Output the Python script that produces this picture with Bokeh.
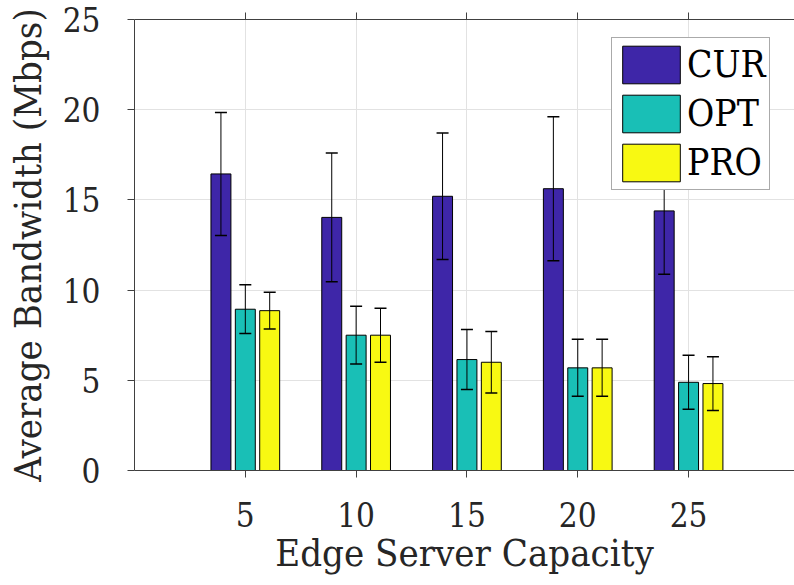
from bokeh.plotting import figure
from bokeh.models import (Range1d, LinearAxis, FixedTicker, Whisker, TeeHead,
                          ColumnDataSource, Legend, LegendItem, CustomJSTickFormatter)
from bokeh.transform import dodge
from bokeh.embed import file_html
from bokeh.resources import INLINE

# ---- data ----
capacities = [5, 10, 15, 20, 25]
series_names = ["CUR", "OPT", "PRO"]
cur_mean = [16.44, 14.03, 15.20, 15.62, 14.39]
cur_err = [3.41, 3.57, 3.51, 3.99, 3.51]
opt_mean = [8.94, 7.50, 6.15, 5.69, 4.89]
opt_err = [1.35, 1.60, 1.66, 1.58, 1.50]
pro_mean = [8.86, 7.50, 6.00, 5.69, 4.82]
pro_err = [1.02, 1.50, 1.70, 1.58, 1.49]
y_ticks = [0, 5, 10, 15, 20, 25]

colors = ["#3E26A8", "#19BFB6", "#F8F912"]
offsets = [-1.1, 0.0, 1.1]
bar_w = 0.9
FONT = "DejaVu Serif Condensed"
AX = "#404040"
TXT = "#262626"

p = figure(width=794, height=585, output_backend="svg", toolbar_location=None,
           x_range=Range1d(0, 29.78), y_range=Range1d(0, 25),
           min_border_left=134, min_border_right=0, min_border_top=19,
           min_border_bottom=115)
p.outline_line_color = None
p.background_fill_color = "white"
p.border_fill_color = "white"

# axes
xa = p.xaxis[0]
xa.ticker = FixedTicker(ticks=capacities)
ya = p.yaxis[0]
ya.ticker = FixedTicker(ticks=y_ticks)
for ax in (xa, ya):
    ax.axis_line_color = AX
    ax.axis_line_width = 1
    ax.major_tick_line_color = AX
    ax.major_tick_in = 0
    ax.major_tick_out = 7
    ax.minor_tick_line_color = None
    ax.major_label_text_font = FONT
    ax.major_label_text_font_size = "33px"
    ax.major_label_text_color = TXT
    ax.axis_label_text_font = FONT
    ax.axis_label_text_font_size = "38px"
    ax.axis_label_text_font_style = "normal"
    ax.axis_label_text_color = TXT

xa.axis_label = "Edge Server Capacity"
xa.major_label_standoff = 24
xa.axis_label_standoff = 1
ya.axis_label = "Average Bandwidth (Mbps)"
ya.major_label_standoff = 27
ya.axis_label_standoff = 10

top = LinearAxis(ticker=FixedTicker(ticks=capacities),
                 formatter=CustomJSTickFormatter(code="return ''"),
                 axis_line_color=AX, major_tick_line_color=AX,
                 major_tick_in=0, major_tick_out=7, minor_tick_line_color=None,
                 major_label_text_font_size="1px", major_label_standoff=0)
p.add_layout(top, "above")

# grid
p.xgrid.ticker = FixedTicker(ticks=capacities)
p.ygrid.ticker = FixedTicker(ticks=y_ticks)
for g in (p.xgrid[0], p.ygrid[0]):
    g.grid_line_color = "#E2E2E2"
    g.grid_line_width = 1

# bars + error bars
means = [cur_mean, opt_mean, pro_mean]
errs = [cur_err, opt_err, pro_err]
renderers = []
sources = []
for name, m, e, c, off in zip(series_names, means, errs, colors, offsets):
    src = ColumnDataSource(dict(
        cap=capacities, mean=m,
        upper=[a + b for a, b in zip(m, e)],
        lower=[a - b for a, b in zip(m, e)]))
    sources.append((src, off))
    r = p.vbar(x=dodge("cap", off), top="mean", bottom=0, width=bar_w, source=src,
               fill_color=c, line_color="black", line_width=1)
    renderers.append(r)

for src, off in sources:
    w = Whisker(source=src, base=dodge("cap", off), upper="upper", lower="lower",
                line_color="black", line_width=1, level="glyph",
                upper_head=TeeHead(size=12, line_color="black", line_width=1.5),
                lower_head=TeeHead(size=12, line_color="black", line_width=1.5))
    p.add_layout(w)

legend = Legend(items=[LegendItem(label=n, renderers=[r]) for n, r in zip(series_names, renderers)],
                location=(477, 280), margin=0, padding=3, spacing=2,
                glyph_width=72, glyph_height=47, label_standoff=0,
                label_text_font=FONT, label_text_font_size="37px",
                label_text_color="black",
                border_line_color="#555555", border_line_width=1,
                background_fill_color="white", background_fill_alpha=1)
p.add_layout(legend)

open("out.html", "w").write(file_html(p, INLINE))
